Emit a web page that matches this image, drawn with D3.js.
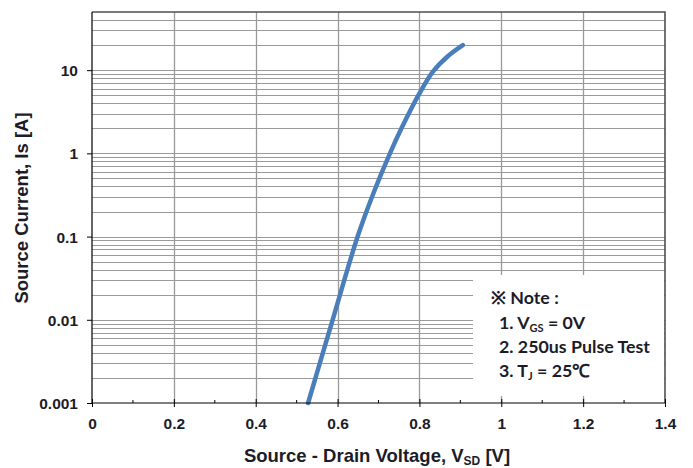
<!DOCTYPE html>
<html><head><meta charset="utf-8">
<script src="https://cdn.jsdelivr.net/npm/d3@7"></script>
<style>body{margin:0;background:#fff;}svg{display:block;} .ar{font-family:"Liberation Sans", Arial, sans-serif;font-weight:bold;} .nt{font-family:"Lato", "Open Sans", sans-serif;font-weight:bold;}</style>
</head><body>
<script>
const vsd = [0.528, 0.588, 0.649, 0.69, 0.728, 0.757, 0.8, 0.833, 0.87, 0.906];
const isd = [0.001, 0.01, 0.1, 0.355, 1.0, 2.04, 5.25, 9.6, 14.8, 20];
const xTicks = [0, 0.2, 0.4, 0.6, 0.8, 1, 1.2, 1.4];
const yTicks = [0.001, 0.01, 0.1, 1, 10];
const yTickLabels = ["0.001", "0.01", "0.1", "1", "10"];
const noteLines = ["1. V", "2. 250us Pulse Test", "3. T"];

const W = 693, H = 468;
const m = {l: 92, r: 28, t: 12, b: 65};
const svg = d3.select("body").append("svg").attr("width", W).attr("height", H);
const x = d3.scaleLinear().domain([0, 1.4]).range([m.l, W - m.r]);
const y = d3.scaleLog().domain([0.001, 50]).range([H - m.b, m.t]);
const tc = "#1c1c28";

// horizontal grid: 1..9 per decade
const hg = [];
for (let e = -3; e <= 1; e++) for (let k = 1; k <= 9; k++) { const v = k * Math.pow(10, e); if (v > 0.001 && v < 50) hg.push(v); }
svg.append("g").selectAll("line").data(hg).join("line")
  .attr("x1", x(0)).attr("x2", x(1.4)).attr("y1", d => Math.round(y(d)) + 0.5).attr("y2", d => Math.round(y(d)) + 0.5)
  .attr("stroke", "#9a9a9a").attr("stroke-width", 1);
svg.append("g").selectAll("line").data(xTicks.slice(1, -1)).join("line")
  .attr("x1", d => Math.round(x(d)) + 0.5).attr("x2", d => Math.round(x(d)) + 0.5).attr("y1", y(50)).attr("y2", y(0.001))
  .attr("stroke", "#9a9a9a").attr("stroke-width", 1.3);

// frame top/right
svg.append("path").attr("d", `M${x(0)},${y(50)}H${x(1.4)}V${y(0.001)}`).attr("fill", "none").attr("stroke", "#505050").attr("stroke-width", 1.6);

// curve
const line = d3.line().x((d, i) => x(vsd[i])).y(d => y(d)).curve(d3.curveCatmullRom.alpha(0.5));
svg.append("path").attr("d", line(isd)).attr("fill", "none").attr("stroke", "#4a7ebb").attr("stroke-width", 4.5).attr("stroke-linecap", "round");

// note box
svg.append("rect").attr("x", 473).attr("y", 275).attr("width", x(1.4) - 473 - 1).attr("height", 121).attr("fill", "#fff");

// axes
const xAxis = d3.axisBottom(x).tickValues(xTicks).tickFormat(d3.format("")).tickSize(4).tickPadding(8);
const gx = svg.append("g").attr("transform", `translate(0,${y(0.001)})`).call(xAxis);
gx.selectAll(".tick line").attr("y1", -4).attr("y2", 4);
gx.selectAll(".tick text").attr("y", 26).attr("dy", null);
gx.append("g").selectAll("line").data([0.1, 0.3, 0.5, 0.7, 0.9, 1.1, 1.3]).join("line")
  .attr("x1", d => x(d)).attr("x2", d => x(d)).attr("y1", -3).attr("y2", 0).attr("stroke", "#000");
const yAxis = d3.axisLeft(y).tickValues(yTicks).tickFormat((d, i) => yTickLabels[i]).tickSize(5).tickPadding(9);
const gy = svg.append("g").attr("transform", `translate(${x(0)},0)`).call(yAxis);
gy.selectAll(".tick text").attr("dy", "0.36em");
[gx, gy].forEach(g => {
  g.attr("font-family", null).attr("font-size", null);
  g.select(".domain").attr("stroke", "#000").attr("stroke-width", 1.2);
  g.selectAll("text").attr("class", "ar").attr("font-size", 15.5).attr("fill", tc);
});
gx.select(".domain").attr("d", `M${x(0)},0H${x(1.4)}`);
gy.select(".domain").attr("d", `M0,${y(50)}V${y(0.001)}`);

// axis titles
const xt = svg.append("text").attr("class", "ar").attr("x", 377).attr("y", 462).attr("text-anchor", "middle")
  .attr("font-size", 18.5).attr("fill", tc);
xt.append("tspan").text("Source - Drain Voltage, V");
xt.append("tspan").text("SD").attr("font-size", 12).attr("dy", 3);
xt.append("tspan").text(" [V]").attr("dy", -3);
svg.append("text").attr("class", "ar").attr("transform", "translate(28,208) rotate(-90)").attr("text-anchor", "middle")
  .attr("font-size", 18.5).attr("fill", tc)
  .text("Source Current, Is [A]");

// note text
const fs = 17.8;
svg.append("text").attr("class", "nt").attr("x", 491).attr("y", 304).attr("font-size", fs).attr("fill", tc).text("※ Note :");
const t1 = svg.append("text").attr("class", "nt").attr("x", 499).attr("y", 329).attr("font-size", fs).attr("fill", tc);
t1.append("tspan").text(noteLines[0]);
t1.append("tspan").text("GS").attr("font-size", 11).attr("dy", 3);
t1.append("tspan").text(" = 0V").attr("dy", -3);
svg.append("text").attr("class", "nt").attr("x", 499).attr("y", 353).attr("font-size", fs).attr("fill", tc).text(noteLines[1]);
const t3 = svg.append("text").attr("class", "nt").attr("x", 499).attr("y", 377).attr("font-size", fs).attr("fill", tc);
t3.append("tspan").text(noteLines[2]);
t3.append("tspan").text("J").attr("font-size", 11).attr("dy", 3);
t3.append("tspan").text(" = 25℃").attr("dy", -3);
</script>
</body></html>
